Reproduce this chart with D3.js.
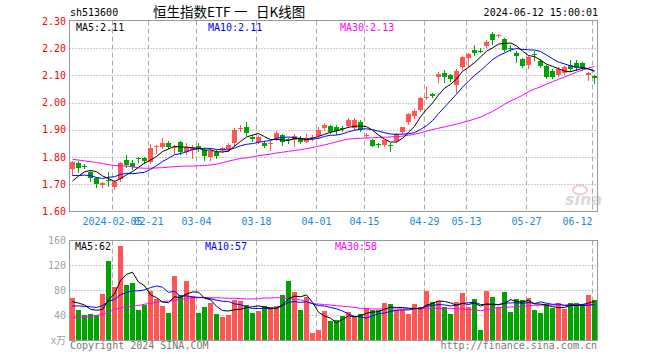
<!DOCTYPE html>
<html><head><meta charset="utf-8">
<script src="https://cdn.jsdelivr.net/npm/d3@7/dist/d3.min.js"></script>
<style>body{margin:0;background:#fff}svg{display:block}</style>
</head><body><div id="chart"></div>
<script>
const dates = ["2024-01-25","2024-01-26","2024-01-29","2024-01-30","2024-01-31","2024-02-01","2024-02-02","2024-02-05","2024-02-06","2024-02-07","2024-02-08","2024-02-19","2024-02-20","2024-02-21","2024-02-22","2024-02-23","2024-02-26","2024-02-27","2024-02-28","2024-02-29","2024-03-01","2024-03-04","2024-03-05","2024-03-06","2024-03-07","2024-03-08","2024-03-11","2024-03-12","2024-03-13","2024-03-14","2024-03-15","2024-03-18","2024-03-19","2024-03-20","2024-03-21","2024-03-22","2024-03-25","2024-03-26","2024-03-27","2024-03-28","2024-03-29","2024-04-01","2024-04-02","2024-04-03","2024-04-08","2024-04-09","2024-04-10","2024-04-11","2024-04-12","2024-04-15","2024-04-16","2024-04-17","2024-04-18","2024-04-19","2024-04-22","2024-04-23","2024-04-24","2024-04-25","2024-04-26","2024-04-29","2024-04-30","2024-05-06","2024-05-07","2024-05-08","2024-05-09","2024-05-10","2024-05-13","2024-05-14","2024-05-15","2024-05-16","2024-05-17","2024-05-20","2024-05-21","2024-05-22","2024-05-23","2024-05-24","2024-05-27","2024-05-28","2024-05-29","2024-05-30","2024-05-31","2024-06-03","2024-06-04","2024-06-05","2024-06-06","2024-06-07","2024-06-11","2024-06-12"];
const opens = [1.755,1.777,1.767,1.744,1.722,1.697,1.716,1.691,1.719,1.789, 1.779,1.797,1.798,1.783,1.836,1.838,1.851,1.834,1.857,1.820, 1.826,1.842,1.826,1.799,1.820,1.826,1.829,1.853,1.903,1.912, 1.872,1.857,1.853,1.849,1.869,1.881,1.867,1.863,1.871,1.857, 1.869,1.878,1.906,1.914,1.912,1.907,1.915,1.905,1.928,1.880, 1.864,1.848,1.844,1.846,1.859,1.893,1.928,1.951,1.973,2.018, 2.030,2.096,2.108,2.102,2.065,2.130,2.163,2.194,2.190,2.208, 2.253,2.244,2.233,2.200,2.182,2.160,2.139,2.178,2.154,2.135, 2.118,2.102,2.110,2.139,2.145,2.147,2.102,2.098];
const highs = [1.786,1.787,1.774,1.749,1.728,1.708,1.744,1.716,1.783,1.808, 1.790,1.801,1.800,1.848,1.844,1.869,1.858,1.845,1.860,1.850, 1.845,1.850,1.832,1.835,1.826,1.836,1.850,1.905,1.918,1.930, 1.880,1.882,1.858,1.860,1.895,1.884,1.870,1.885,1.878,1.885, 1.880,1.910,1.926,1.918,1.918,1.915,1.942,1.942,1.935,1.888, 1.868,1.852,1.862,1.850,1.889,1.912,1.962,1.978,2.020,2.059, 2.036,2.112,2.120,2.107,2.122,2.172,2.182,2.210,2.200,2.232, 2.258,2.252,2.238,2.210,2.191,2.165,2.170,2.190,2.160,2.138, 2.122,2.130,2.135,2.157,2.157,2.150,2.112,2.100];
const lows = [1.734,1.746,1.760,1.713,1.691,1.691,1.695,1.683,1.711,1.765, 1.755,1.783,1.780,1.779,1.814,1.832,1.832,1.815,1.810,1.810, 1.795,1.824,1.789,1.790,1.797,1.820,1.823,1.840,1.895,1.880, 1.858,1.850,1.836,1.826,1.862,1.845,1.850,1.840,1.852,1.855, 1.864,1.870,1.900,1.890,1.885,1.895,1.910,1.900,1.895,1.872, 1.840,1.838,1.840,1.822,1.855,1.889,1.922,1.945,1.968,2.012, 2.020,2.075,2.077,2.080,2.040,2.125,2.135,2.176,2.186,2.204, 2.214,2.240,2.191,2.190,2.151,2.130,2.128,2.155,2.130,2.090, 2.090,2.098,2.105,2.118,2.120,2.120,2.083,2.072];
const closes = [1.783,1.761,1.764,1.724,1.700,1.705,1.712,1.710,1.777,1.771, 1.762,1.792,1.786,1.832,1.839,1.853,1.838,1.836,1.820,1.836, 1.838,1.830,1.804,1.823,1.804,1.832,1.845,1.898,1.906,1.888, 1.866,1.875,1.841,1.852,1.890,1.857,1.864,1.878,1.857,1.869, 1.875,1.900,1.918,1.893,1.895,1.905,1.937,1.935,1.900,1.882, 1.842,1.846,1.862,1.843,1.884,1.909,1.958,1.971,2.016,2.022, 2.026,2.106,2.096,2.086,2.118,2.169,2.179,2.184,2.188,2.224, 2.231,2.249,2.194,2.198,2.172,2.135,2.167,2.174,2.135,2.096, 2.096,2.123,2.130,2.123,2.127,2.129,2.110,2.090];
// closes of the 9 sessions before the window (for the MA5/MA10 start)
const priorCloses = [1.76,1.75,1.74,1.77,1.74,1.67,1.685,1.70,1.722];
// MA30
const ma30Price = [1.792,1.789,1.786,1.783,1.780,1.776,1.772,1.769,1.768,1.767, 1.764,1.760,1.759,1.759,1.760,1.761,1.763,1.765,1.766,1.767, 1.767,1.768,1.769,1.771,1.774,1.779,1.785,1.790,1.795,1.797, 1.801,1.805,1.808,1.811,1.815,1.818,1.821,1.824,1.827,1.831, 1.835,1.840,1.845,1.850,1.856,1.862,1.866,1.868,1.869,1.870, 1.871,1.872,1.873,1.874,1.875,1.877,1.880,1.884,1.889,1.895, 1.901,1.906,1.911,1.916,1.921,1.927,1.933,1.940,1.947,1.957, 1.968,1.980,1.994,2.006,2.016,2.027,2.040,2.050,2.058,2.068, 2.077,2.086,2.094,2.103,2.112,2.120,2.127,2.133];
const volumes = [68.5,48.8,40.8,42.4,41.5,74.4,127.7,86.1,151.7,88.8, 92,48.8,56.8,79.2,66.4,55.7,44.5,103.7,72.8,95.2, 71.7,44.5,54.1,60.5,42.4,38.1,40.8,64.8,63.2,56.8, 44.5,47.7,55.7,54.1,55.2,72.8,95.7,77.6,48.8,70.1, 12.5,16.8,47.7,31.7,32.8,39.7,45.1,39.7,41.9,51.5, 48.8,48.8,59.5,58.4,48.8,48.8,42.4,58.4,54.1,79.7, 61.6,63.2,54.1,42.4,61.6,76,54.1,66.4,16.8,79.7, 69.6,53.6,77.6,45.6,66.4,64.3,68,48.8,44,58, 52,60,50,60,60,56.8,72.8,64.3];
const priorVolumes = [45,50,48,52,45,58.8,56.8,76.4,49.5];
const ma30Volume = [37,37,37.5,38,40,42,45,50,52,54, 55,56,58,59.5,61,62.5,63,64,66,67, 68,68.5,68.5,68.5,68.5,68,67.5,67.5,67,66.5, 66.5,67,68,68,68.5,68.5,67,66,65,62, 59,58.4,57.5,56.8,55.7,55,54,53,51.5,51, 50.5,50.5,50.4,50.4,50.4,50.4,50.8,51.2,51.5,51.5, 51.5,51.5,51.5,51.5,51,50.5,50,49,47.7,49.5, 51,52.5,53,53.5,54,55,55.5,56.3,56.5,56.8, 56.8,56.8,56.8,57,57.3,57.8,58,58];
const priceTicks = [2.30,2.20,2.10,2.00,1.90,1.80,1.70,1.60];
const volTicks = [160,120,80,40];
const tickDates = ["2024-02-05","2024-02-21","2024-03-04","2024-03-18","2024-04-01","2024-04-15","2024-04-29","2024-05-13","2024-05-27","2024-06-12"];
const tickLabels = ["2024-02-05","02-21","03-04","03-18","04-01","04-15","04-29","05-13","05-27","06-12"];
const legendPrice = ["MA5:2.11","MA10:2.11","MA30:2.13"];
const legendVol = ["MA5:62","MA10:57","MA30:58"];

const W=660,H=360, L=69.5, R=597.5, PT=20.5, PB=211.5, VT=240.5, VB=340.5;
const RED="#ff5555", GREEN="#00a400", MONO="'DejaVu Sans Mono', monospace", CJK="'Noto Sans CJK SC',sans-serif";
const svg=d3.select("#chart").append("svg").attr("width",W).attr("height",H);
svg.append("rect").attr("width",W).attr("height",H).attr("fill","#fff");

const n=dates.length;
const x=d3.scaleBand().domain(d3.range(n)).range([69,597]).padding(0);
const cx=i=>x(i)+3.5;
const y=d3.scaleLinear().domain([1.6,2.3]).range([PB,21]);
const yv=d3.scaleLinear().domain([0,160]).range([VB,VT]);

function movAvg(vals, prior, k){
  const all=prior.concat(vals), off=prior.length;
  return vals.map((v,i)=>d3.mean(all.slice(off+i-k+1, off+i+1)));
}
const ma5=movAvg(closes,priorCloses,5), ma10=movAvg(closes,priorCloses,10);
const vma5=movAvg(volumes,priorVolumes,5), vma10=movAvg(volumes,priorVolumes,10);

// header
svg.append("text").attr("x",70).attr("y",16).attr("font-family",MONO).attr("font-size",10).attr("fill","#000").text("sh513600");
const title=svg.append("text").attr("y",17).attr("font-family",CJK).attr("font-size",13.5).attr("fill","#000");
title.append("tspan").attr("x",153).text("恒生指数ETF");
title.append("tspan").attr("x",234).text("一");
title.append("tspan").attr("x",256).text("日K线图");
svg.append("text").attr("x",598).attr("y",16).attr("text-anchor","end").attr("font-family",MONO).attr("font-size",10).attr("fill","#000").text("2024-06-12 15:00:01");

// grid
const tickIdx=tickDates.map(d=>dates.indexOf(d));
function vgrid(top,bot){
  svg.append("g").selectAll("line").data(tickIdx).join("line")
    .attr("x1",i=>x(i)+1.5).attr("x2",i=>x(i)+1.5).attr("y1",top).attr("y2",bot)
    .attr("stroke","#aaa").attr("stroke-dasharray","5,3");
}
vgrid(PT,PB); vgrid(VT,VB);
svg.append("g").selectAll("line").data(priceTicks.slice(1,-1)).join("line")
  .attr("x1",L).attr("x2",R).attr("y1",d=>Math.round(y(d))+0.5).attr("y2",d=>Math.round(y(d))+0.5)
  .attr("stroke","#999").attr("stroke-dasharray","1,2");
svg.append("g").selectAll("line").data(volTicks.slice(1)).join("line")
  .attr("x1",L).attr("x2",R).attr("y1",d=>yv(d)).attr("y2",d=>yv(d))
  .attr("stroke","#999").attr("stroke-dasharray","1,2");

// watermark
const wm=svg.append("g").attr("opacity",0.55);
wm.append("ellipse").attr("cx",580).attr("cy",190).attr("rx",7).attr("ry",4.5).attr("fill","none").attr("stroke","#f0a0a0").attr("stroke-width",2);
wm.append("text").attr("x",565).attr("y",205).attr("font-family","'DejaVu Sans',sans-serif").attr("font-weight","bold").attr("font-style","italic").attr("font-size",16).attr("fill","#bbb").text("sina");

// axis labels
svg.append("g").selectAll("text").data(priceTicks).join("text")
  .attr("x",66).attr("y",d=>y(d)+3.5).attr("text-anchor","end").attr("font-family",MONO).attr("font-size",10).attr("fill","#ff0000").text(d=>d.toFixed(2));
svg.append("g").selectAll("text").data(volTicks).join("text")
  .attr("x",66).attr("y",d=>yv(d)+3.5).attr("text-anchor","end").attr("font-family",MONO).attr("font-size",10).attr("fill","#a0a0a0").text(d=>d);
svg.append("text").attr("x",66).attr("y",VB+3.5).attr("text-anchor","end").attr("font-family",CJK).attr("font-size",10).attr("fill","#a0a0a0").text("x万");
svg.append("g").selectAll("text").data(tickIdx).join("text")
  .attr("x",i=>x(i)+1.5)
  .attr("text-anchor",(i,k)=>{const gxv=x(i)+1.5, hw=tickLabels[k].length*3; return gxv+hw>R?"end":"middle";})
  .attr("y",225).attr("font-family",MONO).attr("font-size",10).attr("fill","#1a8ad4").text((i,k)=>tickLabels[k]);

// candles
const cg=svg.append("g");
const col=i=>closes[i]>=opens[i]?RED:GREEN;
cg.selectAll("line").data(d3.range(n)).join("line")
  .attr("x1",cx).attr("x2",cx).attr("y1",i=>Math.round(y(highs[i]))).attr("y2",i=>Math.round(y(lows[i]))+1)
  .attr("stroke",col);
cg.selectAll("rect").data(d3.range(n)).join("rect")
  .attr("x",i=>x(i)+1).attr("width",5)
  .attr("y",i=>Math.round(y(Math.max(opens[i],closes[i]))))
  .attr("height",i=>Math.max(1,Math.round(y(Math.min(opens[i],closes[i])))-Math.round(y(Math.max(opens[i],closes[i])))))
  .attr("fill",col);

// volume bars
svg.append("g").selectAll("rect").data(d3.range(n)).join("rect")
  .attr("x",i=>x(i)+1).attr("width",5)
  .attr("y",i=>Math.round(yv(volumes[i])))
  .attr("height",i=>VB-Math.round(yv(volumes[i])))
  .attr("fill",col);

// MA lines
function maLine(vals, sc, color){
  svg.append("path").datum(vals).attr("fill","none").attr("stroke",color).attr("stroke-width",1)
    .attr("d",d3.line().x((d,i)=>cx(i)).y(d=>sc(d)));
}
maLine(ma30Price,y,"#ff00ff"); maLine(ma10,y,"#0000ff"); maLine(ma5,y,"#000");
maLine(ma30Volume,yv,"#ff00ff"); maLine(vma10,yv,"#0000ff"); maLine(vma5,yv,"#000");

// frames
svg.append("rect").attr("x",L).attr("y",PT).attr("width",R-L).attr("height",PB-PT).attr("fill","none").attr("stroke","#999");
svg.append("rect").attr("x",L).attr("y",VT).attr("width",R-L).attr("height",VB-VT).attr("fill","none").attr("stroke","#999");

// legends
const legX=[76,208,340], legC=["#000","#0000ff","#ff00ff"];
legendPrice.forEach((t,k)=>svg.append("text").attr("x",legX[k]).attr("y",31).attr("font-family",MONO).attr("font-size",10).attr("fill",legC[k]).text(t));
const legVX=[75,205,335];
legendVol.forEach((t,k)=>svg.append("text").attr("x",legVX[k]).attr("y",250).attr("font-family",MONO).attr("font-size",10).attr("fill",legC[k]).text(t));

svg.append("text").attr("x",70).attr("y",349).attr("font-family",MONO).attr("font-size",10).attr("fill","#777").text("Copyright 2024 SINA.COM");
svg.append("text").attr("x",597).attr("y",349).attr("text-anchor","end").attr("font-family",MONO).attr("font-size",10).attr("fill","#777").text("http://finance.sina.com.cn");
</script></body></html>
